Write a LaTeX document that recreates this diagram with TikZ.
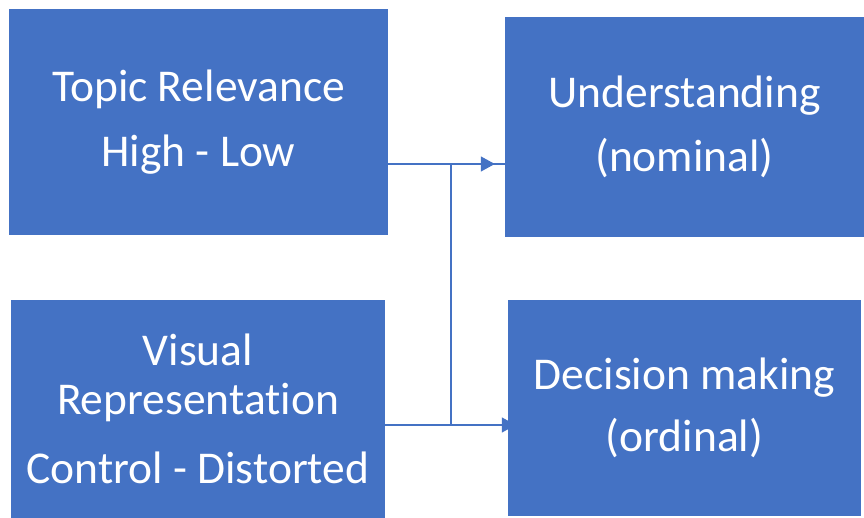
\documentclass[tikz,border=0pt]{standalone}
\usepackage{fontspec}
\setmainfont{Carlito}[Ligatures=NoCommon]
\usetikzlibrary{arrows.meta,backgrounds}
\definecolor{boxblue}{HTML}{4472C4}
\definecolor{lineblue}{HTML}{4472C4}

\begin{document}
\begin{tikzpicture}[x=1pt,y=1pt,
        box/.style={fill=boxblue,text=white,inner sep=0pt,align=center,font=\fontsize{45.5}{49}\selectfont},
        link/.style={draw=lineblue,line width=1.3pt},
        tip/.style={-{Triangle[length=14pt,width=15pt]}}]
                \useasboundingbox (0,0) rectangle (864,518);
                \node[box,minimum width=379pt,minimum height=226pt] (topic) at (198.5,396) {Topic Relevance\\[16pt]High - Low};
                \node[box,minimum width=374pt,minimum height=218pt] (visual) at (198,109) {Visual\\Representation\\[20pt]Control - Distorted};
                \node[box,minimum width=359pt,minimum height=220pt] (under) at (684.5,391) {Understanding\\[15pt](nominal)};
                \node[box,minimum width=353pt,minimum height=216pt] (decision) at (684.5,110) {Decision making\\[13pt](ordinal)};
                \coordinate (j1) at (451,354);
                \coordinate (j2) at (451,93);
                \begin{scope}[on background layer]
                \draw[link] (topic.east |- j1) -- (j1 -| under.west);
                \draw[link,tip,shorten >=10pt] (j1) -- (j1 -| under.west);
                \draw[link] (j1) -- (j2);
                \draw[link,tip,shorten >=-8pt] (visual.east |- j2) -- (j2 -| decision.west);
                \end{scope}
            \end{tikzpicture}
\end{document}
